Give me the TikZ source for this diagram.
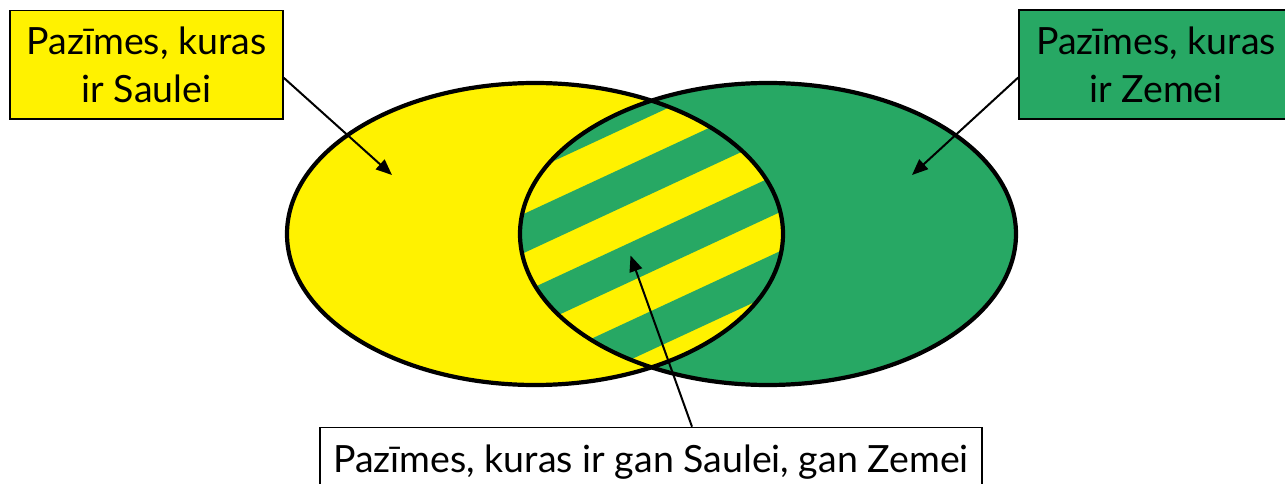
\documentclass[tikz,border=0pt]{standalone}
\usepackage{fontspec}
\setmainfont{Lato}
\usetikzlibrary{arrows.meta}
\definecolor{sunyellow}{HTML}{FFF200}
\definecolor{earthgreen}{HTML}{27A864}
\begin{document}
\begin{tikzpicture}[x=1pt,y=-1pt,
  labelbox/.style={draw=black, line width=1.5pt, align=center, inner sep=0pt,
    font=\fontsize{37.5}{48}\selectfont},
  pointer/.style={-{Triangle[length=16pt,width=13pt]}, line width=2pt},
  outline/.style={line width=4.2pt}]
\useasboundingbox (0,0) rectangle (1285,484);
% filled sets
\fill[sunyellow] (535,234) ellipse [x radius=248, y radius=151];
\fill[earthgreen] (768,234) ellipse [x radius=248, y radius=151];
% striped intersection
\begin{scope}
  \clip (535,234) ellipse [x radius=248, y radius=151];
  \clip (768,234) ellipse [x radius=248, y radius=151];
  \fill[sunyellow] (480,60) rectangle (820,410);
  \foreach \j in {-2,...,5}{
    \pgfmathsetmacro{\a}{100.45+78.1*\j}
    \fill[earthgreen] (480,\a+55.7) -- (820,\a-102.1) -- (820,\a-63.05) -- (480,\a+94.75) -- cycle;
  }
\end{scope}
% outlines
\draw[outline] (535,234) ellipse [x radius=248, y radius=151];
\draw[outline] (768,234) ellipse [x radius=248, y radius=151];
% label boxes
\node[labelbox, fill=sunyellow, minimum width=273pt, minimum height=108.3pt] (sun) at (146.5,64.8) {Pazīmes, kuras\\ir Saulei};
\node[labelbox, fill=earthgreen, minimum width=274pt, minimum height=109pt] (earth) at (1156,64.5) {Pazīmes, kuras\\ir Zemei};
\node[labelbox, fill=white, minimum width=662pt, minimum height=70pt, anchor=north] (both) at (651,426.7) {Pazīmes, kuras ir gan Saulei, gan Zemei};
% pointers
\coordinate (suntip) at (392,175);
\coordinate (earthtip) at (912,175);
\coordinate (bothtip) at (630.5,255.5);
\draw[pointer] ([yshift=-13pt]sun.east) -- (suntip);
\draw[pointer] ([yshift=-13pt]earth.west) -- (earthtip);
\draw[pointer] ([xshift=41pt]both.north) -- (bothtip);
\end{tikzpicture}
\end{document}
